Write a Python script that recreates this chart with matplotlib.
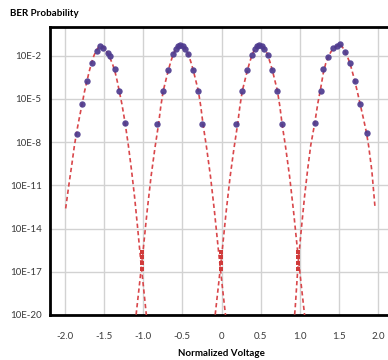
import numpy as np
import matplotlib.pyplot as plt

# =========================================
# DATA (log10 of BER probability)
# =========================================
curve_a_x = [-1.99, -1.95, -1.91, -1.88, -1.85, -1.815, -1.78, -1.75, -1.72, -1.69, -1.66, -1.63,
             -1.60, -1.57, -1.54, -1.51, -1.48, -1.45, -1.42, -1.39, -1.36, -1.33, -1.30, -1.27,
             -1.23, -1.19, -1.15, -1.11, -1.07, -1.03, -0.99, -0.95, -0.92]
curve_a_log = [-12.6, -11.0, -9.5, -8.3, -7.3, -6.3, -5.35, -4.5, -3.8, -3.1, -2.5, -2.0,
               -1.65, -1.4, -1.3, -1.38, -1.58, -1.85, -2.2, -2.6, -3.1, -3.8, -4.6, -5.4,
               -6.7, -8.2, -9.9, -11.8, -14.0, -16.3, -18.4, -20.5, -22.0]

curve_b_x = [-1.13, -1.095, -1.05, -1.01, -0.95, -0.90, -0.85, -0.804, -0.775, -0.744, -0.71,
             -0.68, -0.65, -0.616, -0.58, -0.55, -0.52, -0.49, -0.46, -0.424, -0.39, -0.36,
             -0.33, -0.296, -0.265, -0.236, -0.19, -0.14, -0.09, -0.03, 0.01, 0.055, 0.09]
curve_b_log = [-22.0, -20.2, -18.0, -16.0, -12.8, -10.4, -8.4, -6.75, -5.5, -4.43, -3.68,
               -3.02, -2.45, -1.88, -1.5, -1.32, -1.25, -1.32, -1.5, -1.88, -2.45, -3.02,
               -3.68, -4.43, -5.5, -6.75, -8.4, -10.4, -12.8, -16.0, -18.0, -20.2, -22.0]

curve_c_x = [-0.12, -0.085, -0.04, 0.0, 0.06, 0.11, 0.16, 0.206, 0.235, 0.266, 0.30,
             0.33, 0.36, 0.394, 0.43, 0.46, 0.49, 0.52, 0.55, 0.586, 0.62, 0.65,
             0.68, 0.714, 0.745, 0.774, 0.82, 0.87, 0.92, 0.98, 1.02, 1.065, 1.10]
curve_c_log = [-22.0, -20.2, -18.0, -16.0, -12.8, -10.4, -8.4, -6.75, -5.5, -4.43, -3.68,
               -3.02, -2.45, -1.88, -1.5, -1.32, -1.25, -1.32, -1.5, -1.88, -2.45, -3.02,
               -3.68, -4.43, -5.5, -6.75, -8.4, -10.4, -12.8, -16.0, -18.0, -20.2, -22.0]

curve_d_x = [0.90, 0.94, 0.98, 1.02, 1.06, 1.10, 1.14, 1.19, 1.23, 1.265, 1.30, 1.33, 1.365,
             1.40, 1.43, 1.47, 1.51, 1.545, 1.58, 1.61, 1.64, 1.67, 1.70, 1.735, 1.77,
             1.81, 1.85, 1.88, 1.92, 1.96]
curve_d_log = [-22.0, -19.6, -16.3, -14.0, -11.8, -9.9, -8.2, -6.7, -5.3, -4.3, -3.2, -2.55,
               -2.05, -1.7, -1.49, -1.33, -1.22, -1.4, -1.72, -2.1, -2.5, -3.1, -3.7, -4.5,
               -5.35, -6.3, -7.3, -8.3, -10.0, -12.5]

dots_a_x = [-1.85, -1.78, -1.72, -1.66, -1.595, -1.553, -1.511, -1.447, -1.425, -1.36, -1.31, -1.233]
dots_a_log = [-7.42, -5.38, -3.76, -2.49, -1.67, -1.33, -1.44, -1.79, -2.02, -2.95, -4.41, -6.66]

dots_b_x = [-0.82, -0.744, -0.68, -0.616, -0.585, -0.555, -0.525, -0.495, -0.465, -0.424, -0.36, -0.296, -0.253]
dots_b_log = [-6.77, -4.41, -3.02, -1.86, -1.5, -1.3, -1.22, -1.3, -1.5, -1.86, -3.02, -4.45, -6.73]

dots_c_x = [0.19, 0.262, 0.326, 0.39, 0.425, 0.455, 0.485, 0.515, 0.545, 0.59, 0.645, 0.708, 0.77]
dots_c_log = [-6.73, -4.41, -3.02, -1.91, -1.5, -1.3, -1.22, -1.3, -1.5, -1.91, -3.02, -4.41, -6.73]

dots_d_x = [1.195, 1.268, 1.30, 1.365, 1.43, 1.472, 1.514, 1.578, 1.642, 1.706, 1.77, 1.855]
dots_d_log = [-6.66, -4.45, -2.95, -2.09, -1.49, -1.33, -1.21, -1.72, -2.49, -3.76, -5.38, -7.35]

cross_x = [-1.02, -1.02, -1.02, -1.02, -0.01, -0.01, -0.01, -0.01, 0.98, 0.98, 0.98, 0.98]
cross_log = [-15.6, -16.0, -16.4, -16.8, -15.6, -16.0, -16.4, -16.8, -15.6, -16.0, -16.4, -16.8]

x_ticks = [-2.0, -1.5, -1.0, -0.5, 0.0, 0.5, 1.0, 1.5, 2.0]
x_tick_labels = ["-2.0", "-1.5", "-1.0", "-0.5", "0", "0.5", "1.0", "1.5", "2.0"]
y_ticks_log = [-2, -5, -8, -11, -14, -17, -20]
y_tick_labels = ["10E-2", "10E-5", "10E-8", "10E-11", "10E-14", "10E-17", "10E-20"]

# =========================================
# PLOT
# =========================================
plt.rcParams["font.family"] = ["Lato", "DejaVu Sans"]

LINE_RED = "#d9474b"
DOT_PURPLE = "#4d3a8e"

fig = plt.figure(figsize=(3.88, 3.6), dpi=100)
ax = fig.add_axes([50 / 388, 45 / 360, 343 / 388, 288 / 360])

curves = [(curve_a_x, curve_a_log), (curve_b_x, curve_b_log),
          (curve_c_x, curve_c_log), (curve_d_x, curve_d_log)]
for cx, clog in curves:
    ax.plot(cx, 10.0 ** np.array(clog), color=LINE_RED, linewidth=1.2,
            dashes=[2.6, 1.8], zorder=3)

dots = [(dots_a_x, dots_a_log), (dots_b_x, dots_b_log),
        (dots_c_x, dots_c_log), (dots_d_x, dots_d_log)]
for dx, dlog in dots:
    ax.plot(dx, 10.0 ** np.array(dlog), linestyle="none", marker="o",
            markersize=4.6, color=DOT_PURPLE, markeredgewidth=0, alpha=0.92, zorder=4)

ax.plot(cross_x, 10.0 ** np.array(cross_log), linestyle="none", marker="s",
        markersize=2.8, color="#d03a3a", markeredgewidth=0, zorder=4)

ax.set_yscale("log")
ax.set_xlim(-2.19, 2.19)
ax.set_ylim(1e-20, 1e0)

ax.set_xticks(x_ticks)
ax.set_xticklabels(x_tick_labels)
ax.set_yticks([10.0 ** v for v in y_ticks_log])
ax.set_yticklabels(y_tick_labels)
ax.minorticks_off()
ax.tick_params(axis="both", length=0, labelsize=7, colors="#3a3a3a")
ax.tick_params(axis="x", pad=12)
ax.tick_params(axis="y", pad=6)

ax.grid(True, color="#d2d2d2", linewidth=1.0)
ax.set_axisbelow(True)

for spine in ax.spines.values():
    spine.set_linewidth(2.0)
    spine.set_color("black")

ax.set_xlabel("Normalized Voltage", fontsize=7, fontweight="bold", labelpad=6)
fig.text(10 / 388, 1 - 14 / 360, "BER Probability", fontsize=7, fontweight="bold",
         ha="left", va="center")

fig.savefig("out.png", dpi=100)
